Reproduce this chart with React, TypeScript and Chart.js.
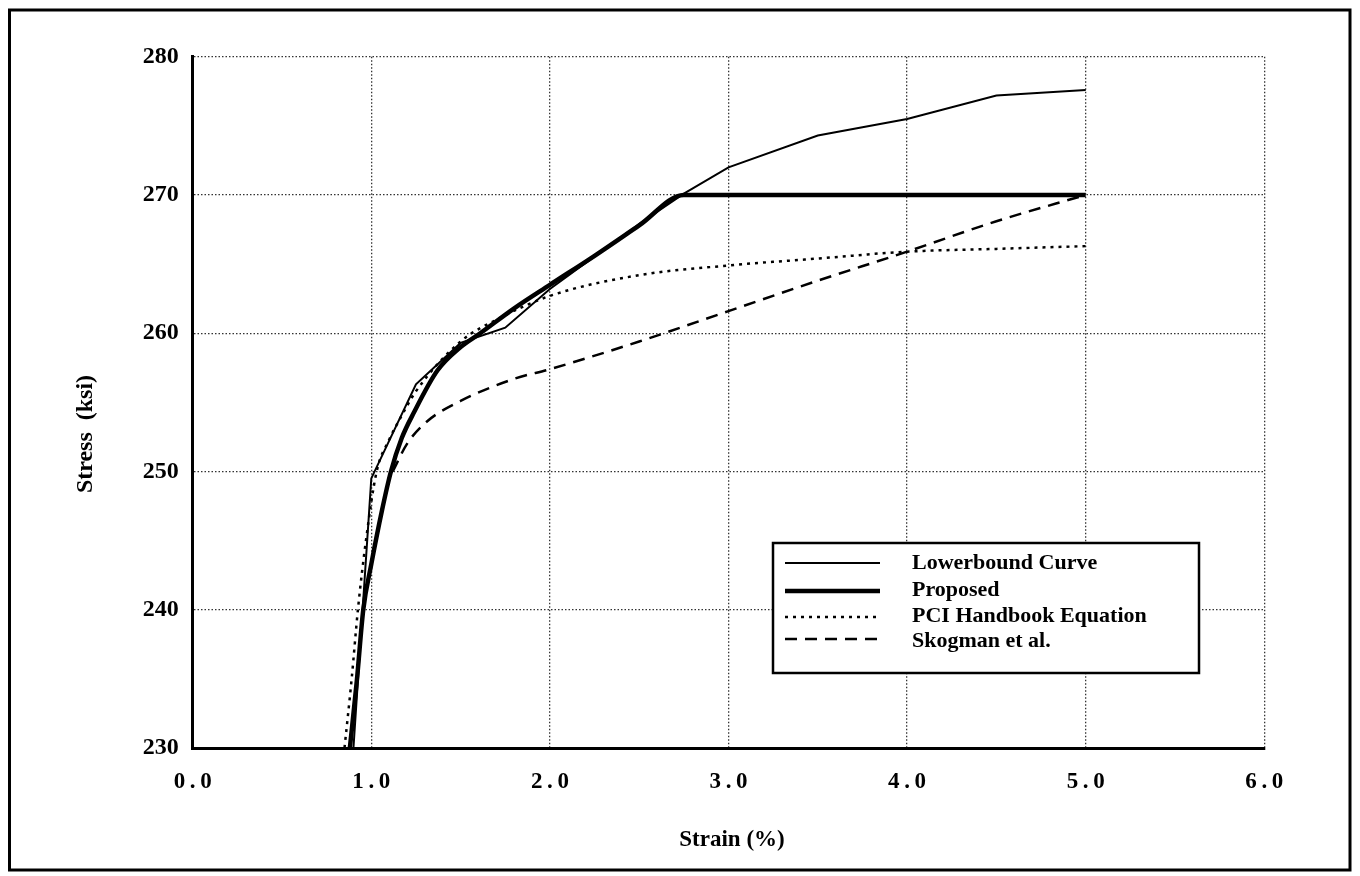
import React, { useEffect, useRef } from "react";
import { Chart, registerables } from "chart.js";

Chart.register(...registerables);

const FONT = "'Liberation Serif', 'Times New Roman', serif";

// Strain (%) / Stress (ksi) data
const lowerboundX = [0.9, 1.0, 1.25, 1.5, 1.75, 2.0, 2.5, 2.75, 3.0, 3.5, 4.0, 4.5, 5.0];
const lowerboundY = [230, 249.5, 256.3, 259.3, 260.4, 263.2, 267.9, 270.1, 272.0, 274.3, 275.5, 277.2, 277.6];

const proposedX = [0.88, 0.92, 0.955, 1.0, 1.06, 1.11, 1.17, 1.24, 1.37, 1.5, 1.61, 1.8, 2.0, 2.25, 2.5, 2.75, 5.0];
const proposedY = [230, 235, 240, 243.3, 247.2, 250, 252.4, 254.3, 257.3, 259.0, 260, 261.8, 263.5, 265.6, 267.8, 270, 270];

const pciX = [0.85, 0.89, 0.925, 0.97, 1.03, 1.1, 1.16, 1.25, 1.5, 1.72, 2.0, 2.5, 3.0, 3.5, 4.0, 4.5, 5.0];
const pciY = [230, 235, 240, 245, 250, 252.3, 253.8, 255.8, 259.4, 261.1, 262.7, 264.2, 264.9, 265.4, 265.9, 266.1, 266.3];

const skogmanX = [1.12, 1.2, 1.31, 1.5, 1.8, 2.0, 2.5, 3.0, 3.5, 4.0, 4.5, 5.0];
const skogmanY = [250, 252.0, 253.6, 255.1, 256.7, 257.4, 259.4, 261.6, 263.8, 265.9, 268.1, 270];

const seriesLabels = ["Lowerbound Curve", "Proposed", "PCI Handbook Equation", "Skogman et al."];

const xTitle = "Strain (%)";
const yTitle = "Stress  (ksi)";

const toPoints = (xs: number[], ys: number[]) => xs.map((x, i) => ({ x, y: ys[i] }));

const framePlugin = {
  id: "frameAndText",
  afterDraw(chart: any) {
    const ctx = chart.ctx;
    ctx.save();
    // outer frame
    ctx.strokeStyle = "#000";
    ctx.lineWidth = 3;
    ctx.strokeRect(9.5, 10, 1340.5, 860);

    // axis titles
    ctx.fillStyle = "#000";
    ctx.font = `bold 23px ${FONT}`;
    ctx.textAlign = "center";
    ctx.textBaseline = "middle";
    ctx.fillText(xTitle, 732, 840);
    ctx.save();
    ctx.translate(86, 434);
    ctx.rotate(-Math.PI / 2);
    ctx.font = `bold 24px ${FONT}`;
    ctx.fillText(yTitle, 0, 0);
    ctx.restore();

    // legend box
    const bx = 773, by = 543, bw = 426, bh = 130;
    ctx.fillStyle = "#fff";
    ctx.fillRect(bx, by, bw, bh);
    ctx.strokeStyle = "#000";
    ctx.lineWidth = 2.5;
    ctx.strokeRect(bx, by, bw, bh);

    const baselines = [569, 596, 622, 647];
    const lineYs = [563, 591, 617, 639];
    chart.data.datasets.forEach((ds: any, i: number) => {
      ctx.save();
      ctx.strokeStyle = "#000";
      ctx.lineWidth = ds.borderWidth;
      ctx.setLineDash(ds.borderDash || []);
      ctx.beginPath();
      ctx.moveTo(785, lineYs[i]);
      ctx.lineTo(880, lineYs[i]);
      ctx.stroke();
      ctx.restore();
      ctx.fillStyle = "#000";
      ctx.font = `bold 22px ${FONT}`;
      ctx.textAlign = "left";
      ctx.textBaseline = "alphabetic";
      ctx.fillText(ds.label, 912, baselines[i]);
    });
    ctx.restore();
  },
};

export default function App() {
  const ref = useRef<HTMLCanvasElement | null>(null);

  useEffect(() => {
    if (!ref.current) return;
    const chart = new Chart(ref.current, {
      type: "line",
      data: {
        datasets: [
          {
            label: seriesLabels[0],
            data: toPoints(lowerboundX, lowerboundY),
            borderColor: "#000",
            borderWidth: 2,
            borderDash: [],
            pointRadius: 0,
            tension: 0,
            fill: false,
          },
          {
            label: seriesLabels[1],
            data: toPoints(proposedX, proposedY),
            borderColor: "#000",
            borderWidth: 4.5,
            borderDash: [],
            pointRadius: 0,
            cubicInterpolationMode: "monotone",
            fill: false,
          },
          {
            label: seriesLabels[2],
            data: toPoints(pciX, pciY),
            borderColor: "#000",
            borderWidth: 2.5,
            borderDash: [3, 5],
            pointRadius: 0,
            cubicInterpolationMode: "monotone",
            fill: false,
          },
          {
            label: seriesLabels[3],
            data: toPoints(skogmanX, skogmanY),
            borderColor: "#000",
            borderWidth: 2.5,
            borderDash: [12, 8],
            pointRadius: 0,
            cubicInterpolationMode: "monotone",
            fill: false,
          },
        ],
      },
      options: {
        animation: false,
        responsive: false,
        devicePixelRatio: 1,
        layout: { padding: { left: 92.7, top: 56.7, right: 95.7, bottom: 78 } },
        plugins: { legend: { display: false }, tooltip: { enabled: false } },
        scales: {
          x: {
            type: "linear",
            min: 0,
            max: 6,
            afterFit: (s: any) => {
              s.height = 50;
            },
            ticks: {
              stepSize: 1,
              padding: 20,
              color: "#000",
              font: { family: FONT, size: 23, weight: "bold" },
              callback: (v: any) => Number(v).toFixed(1).replace(".", "\u2009.\u2009"),
            },
            grid: { color: "#333", lineWidth: 1.3, drawTicks: false },
            border: { display: true, color: "#000", width: 3, dash: [1.5, 2] },
          },
          y: {
            type: "linear",
            min: 230,
            max: 280,
            afterFit: (s: any) => {
              s.width = 100;
            },
            ticks: {
              stepSize: 10,
              padding: 14,
              color: "#000",
              font: { family: FONT, size: 24, weight: "bold" },
            },
            grid: { color: "#333", lineWidth: 1.3, drawTicks: false },
            border: { display: true, color: "#000", width: 3, dash: [1.5, 2] },
          },
        },
      },
      plugins: [framePlugin],
    } as any);
    return () => chart.destroy();
  }, []);

  return (
    <div style={{ position: "fixed", left: 0, top: 0, width: 1360, height: 876, background: "#fff" }}>
      <canvas ref={ref} width={1360} height={876} />
    </div>
  );
}
